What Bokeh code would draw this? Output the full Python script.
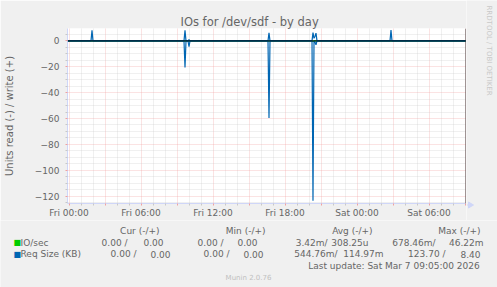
import math
from bokeh.plotting import figure
from bokeh.layouts import column, row
from bokeh.models import Range1d, FixedTicker, Label, Span, Title
from bokeh.embed import file_html
from bokeh.resources import INLINE

# ---------------- data ----------------
title_text = "IOs for /dev/sdf - by day"
y_label = "Units read (-) / write (+)"

tick_hours = [0, 6, 12, 18, 24, 30]
tick_labels = ["Fri 00:00", "Fri 06:00", "Fri 12:00", "Fri 18:00", "Sat 00:00", "Sat 06:00"]
y_ticks = [0, -20, -40, -60, -80, -100, -120]

# sample times, hours since Fri 00:00 (5-minute samples around activity)
hours = [-0.083, 1.833, 1.917, 2.0, 9.583, 9.667, 9.75, 9.833, 9.917, 10.0, 10.083,
         16.583, 16.667, 16.75, 20.25, 20.333, 20.417, 20.5, 20.583, 20.667,
         26.75, 26.833, 26.917, 33.083]
# Req Size (KB)
req_write = [0, 0, 8.2, 0, 0, 8.2, 0, 0, 0, 1.0, 0,
             0, 6.3, 0, 0, 6.4, 2.0, 3.5, 6.0, 0,
             0, 8.4, 0, 0]
req_read = [0, 0, 0, 0, 0, 20.6, 0, 0, 0, 4.5, 0,
            0, 59.7, 0, 0, 123.7, 0, 1.0, 3.0, 0,
            0, 0, 0, 0]
# IO/sec
io_write = [0, 0, 0.04, 0, 0, 0.046, 0, 0, 0, 0.01, 0,
            0, 0.03, 0, 0, 0.03, 0.01, 0.02, 0.03, 0,
            0, 0.04, 0, 0]
io_read = [0, 0, 0, 0, 0, 0.2, 0, 0, 0, 0.05, 0,
           0, 0.4, 0, 0, 0.678, 0, 0.01, 0.03, 0,
           0, 0, 0, 0]

legend_names = ["IO/sec", "Req Size (KB)"]
legend_colors = ["#00cc00", "#0066b3"]
cur_read = ["0.00", "0.00"]
cur_write = ["0.00", "0.00"]
min_read = ["0.00", "0.00"]
min_write = ["0.00", "0.00"]
avg_read = ["3.42m", "544.76m"]
avg_write = ["308.25u", "114.97m"]
max_read = ["678.46m", "123.70"]
max_write = ["46.22m", "8.40"]
headers = ["Cur (-/+)", "Min (-/+)", "Avg (-/+)", "Max (-/+)"]
last_update = "Last update: Sat Mar  7 09:05:00 2026"
footer = "Munin 2.0.76"
watermark = "RRDTOOL / TOBI OETIKER"

# ---------------- layout / style ----------------
W, H = 497, 287
HA = 220                      # height of chart part
FL, FR, FT, FB = 67, 466, 28, 204
PXH = 12.0                    # pixels per hour
PXU = 1.3                     # pixels per unit
X0 = -1.5 / PXH
X1 = X0 + (FR - FL) / PXH
Y1 = 12.5 / PXU
Y0 = Y1 - (FB - FT) / PXU
FONT = "DejaVu Sans"
FONT_C = "#666666"
AXIS_C = "#CFD6F8"
MGRID_C = "#f0a0a0"
GRID_C = "#c8c8c8"
BG = "#F0F0F0"

p = figure(width=FR, height=HA, x_range=Range1d(X0, X1), y_range=Range1d(Y0, Y1),
           output_backend="svg", toolbar_location=None, title=None,
           min_border_left=FL, min_border_right=0, min_border_top=FT,
           min_border_bottom=HA - FB,
           background_fill_color="white", border_fill_color=BG,
           outline_line_color=None)
p.frame_align = False

major_x = list(range(0, 34, 3))
minor_x = [h for h in range(0, 34) if h % 3 != 0]
overrides = {h: "" for h in major_x}
for h, lbl in zip(tick_hours, tick_labels):
    overrides[h] = lbl
p.xaxis.ticker = FixedTicker(ticks=major_x, minor_ticks=minor_x)
p.xaxis.major_label_overrides = overrides

minor_y = [v for v in range(-125, 6, 5) if v % 20 != 0]
p.yaxis.ticker = FixedTicker(ticks=y_ticks, minor_ticks=minor_y)
p.yaxis.axis_label = y_label

for ax in (p.xaxis[0], p.yaxis[0]):
    ax.axis_line_color = AXIS_C
    ax.major_tick_line_color = MGRID_C
    ax.minor_tick_line_color = GRID_C
    ax.major_tick_in = 0
    ax.major_tick_out = 2
    ax.minor_tick_in = 0
    ax.minor_tick_out = 2
    ax.major_label_text_font = FONT
    ax.major_label_text_font_size = "9px"
    ax.major_label_text_color = FONT_C
    ax.axis_label_text_font = FONT
    ax.axis_label_text_font_size = "10px"
    ax.axis_label_text_font_style = "normal"
    ax.axis_label_text_color = FONT_C
p.xaxis.major_label_standoff = 2
p.yaxis.major_label_standoff = 6
p.yaxis.axis_label_standoff = 17

for g in (p.xgrid[0], p.ygrid[0]):
    g.grid_line_color = MGRID_C
    g.grid_line_alpha = 0.6
    g.grid_line_dash = "1 1"
    g.minor_grid_line_color = GRID_C
    g.minor_grid_line_alpha = 0.55
    g.minor_grid_line_dash = "1 1"

# series
p.line(hours, [-v for v in io_read], line_color=legend_colors[0], line_width=1)
p.line(hours, io_write, line_color=legend_colors[0], line_width=1)
p.add_layout(Span(location=0, dimension="width", line_color="black", line_width=1))
p.line(hours, [-v for v in req_read], line_color=legend_colors[1], line_width=1.2)
p.line(hours, req_write, line_color=legend_colors[1], line_width=1.2)

# right edge rule
p.add_layout(Span(location=X1 - 0.5 / PXH, dimension="height", line_color="#444444",
                  line_width=1))

# title in the top panel (not clipped by the frame)
p.add_layout(Title(text=title_text, align="left", offset=113, standoff=0,
                   text_font=FONT, text_font_size="11.5px", text_font_style="normal",
                   text_color=FONT_C), "above")

# ---------------- right strip: watermark + x-axis arrow ----------------
WR = W - FR
w = figure(width=WR, height=HA, x_range=Range1d(0, WR), y_range=Range1d(HA, 0),
           output_backend="svg", toolbar_location=None, title=None,
           x_axis_type=None, y_axis_type=None,
           min_border_left=0, min_border_right=0, min_border_top=0, min_border_bottom=0,
           background_fill_color=BG, border_fill_color=BG, outline_line_color=None)
w.frame_align = False
w.xgrid.visible = False
w.ygrid.visible = False
w.add_layout(Label(x=488 - FR, y=5, text=watermark, angle=-math.pi / 2,
                   text_align="left", text_baseline="middle", text_font=FONT,
                   text_font_size="7px", text_color="#c8c8c8"))
w.line([0, 4], [FB + 0.5, FB + 0.5], line_color=AXIS_C, line_width=1)
w.patch([2, 2, 7], [FB - 2.5, FB + 3.5, FB + 0.5], fill_color=AXIS_C, line_color=AXIS_C)

# ---------------- legend part ----------------
q = figure(width=W, height=H - HA, x_range=Range1d(0, W), y_range=Range1d(H, HA),
           output_backend="svg", toolbar_location=None, title=None,
           x_axis_type=None, y_axis_type=None,
           min_border_left=0, min_border_right=0, min_border_top=0, min_border_bottom=0,
           background_fill_color=BG, border_fill_color=BG, outline_line_color=None)
q.frame_align = False
q.xgrid.visible = False
q.ygrid.visible = False


def lab(text, px, py, align="left", size="9px", color=FONT_C):
    q.add_layout(Label(x=px, y=py, text=text, text_align=align,
                       text_baseline="alphabetic", text_font=FONT,
                       text_font_size=size, text_color=color))


header_right = [159, 265, 372, 480]
for t, xr in zip(headers, header_right):
    lab(t, xr, 230.8, align="right")

row_base = [242.3, 253.8]
read_right = [[127, 223, 327, 435], [136, 229, 337, 445]]
write_right = [[163, 257, 368, 483], [170, 263, 383, 480]]


def rd(v):
    return f"{v}/" if v[-1].isalpha() else f"{v} /"


for i in range(2):
    yb = row_base[i]
    lab("\u25a0", 13, yb, size="8px", color=legend_colors[i])
    lab(legend_names[i], 20, yb)
    reads = [cur_read[i], min_read[i], avg_read[i], max_read[i]]
    writes = [cur_write[i], min_write[i], avg_write[i], max_write[i]]
    for k in range(4):
        lab(rd(reads[k]), read_right[i][k], yb, align="right")
        lab(writes[k], write_right[i][k], yb, align="right")

lab(last_update, 482, 265.0, align="right")
lab(footer, 248, 277, align="center", size="7px", color="#c0c0c0")

layout = column(row(p, w, spacing=0), q, spacing=0)
open("out.html", "w").write(file_html(layout, INLINE))
